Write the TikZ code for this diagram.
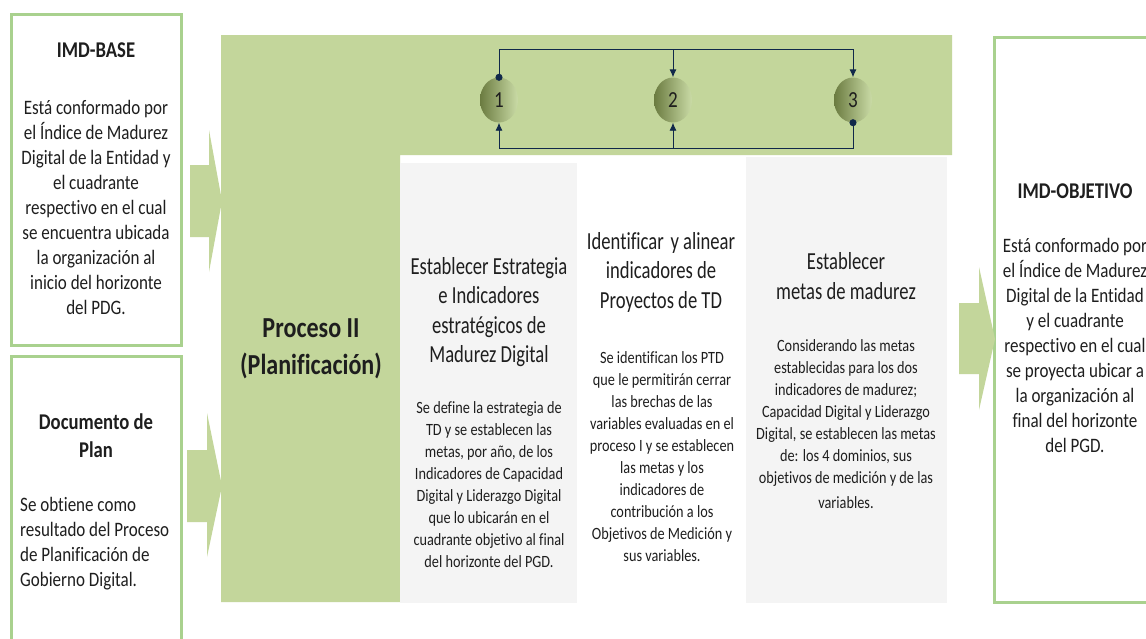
\documentclass[tikz,border=0pt]{standalone}
\usepackage{fontspec}
\setmainfont{Carlito}[FakeStretch=0.83, Ligatures=NoCommon]
\newfontfamily\coltitlefont{Carlito}[FakeStretch=0.76, Ligatures=NoCommon]
\usetikzlibrary{arrows.meta,shapes.geometric}
\definecolor{pgreen}{HTML}{C3D69B}
\definecolor{bgreen}{HTML}{A9D18E}
\definecolor{pgray}{HTML}{F4F4F4}
\definecolor{ink}{HTML}{1E1E1E}
\definecolor{navy}{HTML}{10284A}
\definecolor{olived}{HTML}{6B7B40}
\definecolor{olivel}{HTML}{CADBA6}
\tikzset{dotend/.tip={Circle[length=7pt]}, tipend/.tip={Latex[length=8pt,width=7pt]}}
\begin{document}
\begin{tikzpicture}[x=1pt,y=-1pt,
  txt/.style={inner sep=0pt, align=center, text=ink},
  boxtitle/.style={txt, font=\fontsize{22.5}{28}\selectfont\bfseries},
  boxbody/.style={txt, font=\fontsize{20.5}{25}\selectfont},
  bigtitle/.style={txt, font=\fontsize{29}{37}\selectfont\bfseries},
  coltitle/.style={txt, font=\coltitlefont\fontsize{24.5}{29.5}\selectfont},
  colbody/.style={txt, font=\fontsize{17.2}{22}\selectfont},
  frame/.style={draw=bgreen, line width=3pt},
  circ/.style={ellipse, minimum width=38pt, minimum height=45pt, inner sep=0pt,
    left color=olived, right color=olivel, text=ink, font=\fontsize{23}{23}\selectfont},
  conn/.style={draw=navy, line width=0.9pt},
  chev/.style={fill=pgreen}]
\useasboundingbox[fill=white] (0,0) rectangle (1146,638);
\begin{scope}
\clip (0,0) rectangle (1146,638);
% main green area
\fill[pgreen] (221,35) -- (952,35) -- (952,155) -- (400,155) -- (400,602) -- (221,602) -- cycle;
% column panels
\fill[pgray] (400,163) rectangle (577,603);
\fill[pgray] (746,157) rectangle (947,603);
% side frames
\draw[frame] (11.5,14.5) rectangle (181.5,345.5);
\draw[frame] (11.5,356.5) rectangle (181.5,700);
\draw[frame] (994.5,37.5) rectangle (1200,602.5);
% chevrons
\fill[chev] (190,165) -- (209,165) -- (209,130) -- (222,201) -- (209,272) -- (209,237) -- (190,237) -- cycle;
\fill[chev] (187,450) -- (207,450) -- (207,413) -- (222,486) -- (207,557) -- (207,522) -- (187,522) -- cycle;
\fill[chev] (959,303) -- (979,303) -- (979,267) -- (995,339) -- (979,410) -- (979,374) -- (959,374) -- cycle;
\end{scope}
% circles
\node[circ] (c1) at (499,100) {1};
\node[circ] (c2) at (673,100) {2};
\node[circ] (c3) at (853,100) {3};
\coordinate (t1) at (499,49);
\coordinate (t2) at (673,49);
\coordinate (t3) at (853,49);
\coordinate (b1) at (499,148);
\coordinate (b2) at (673,148);
\coordinate (b3) at (853,148);
\draw[conn, {dotend}-{tipend}] ([yshift=-3.5pt]c1.north) -- (t1) -- (t3) -- (c3.north);
\draw[conn, -{tipend}] (t2) -- (c2.north);
\draw[conn, {dotend}-{tipend}] ([yshift=3.5pt]c3.south) -- (b3) -- (b1) -- (c1.south);
\draw[conn, -{tipend}] (b2) -- (c2.south);
% left boxes text
\node[boxtitle] (basetitle) at (96,50) {IMD-BASE};
\node[boxbody] (basetext) at (96,207) {Está conformado por\\el Índice de Madurez\\Digital de la Entidad y\\el cuadrante\\respectivo en el cual\\se encuentra ubicada\\la organización al\\inicio del horizonte\\del PDG.};
\node[boxtitle] (plantitle) at (96,436) {Documento de\\Plan};
\node[boxbody, align=left, anchor=west] (plantext) at (20,544) {Se obtiene como\\resultado del Proceso\\de Planificación de\\Gobierno Digital.};
% process title
\node[bigtitle] (proc) at (311,349) {Proceso II\\(Planificación)};
% columns
\node[coltitle] (t1title) at (489,312) {Establecer Estrategia\\e Indicadores\\estratégicos de\\Madurez Digital};
\node[colbody] (t1body) at (489,485) {Se define la estrategia de\\TD y se establecen las\\metas, por año, de los\\Indicadores de Capacidad\\Digital y Liderazgo Digital\\que lo ubicarán en el\\cuadrante objetivo al final\\del horizonte del PGD.};
\node[coltitle] (t2title) at (661,272) {Identificar\hspace{0.1em} y alinear\\indicadores de\\Proyectos de TD};
\node[colbody] (t2body) at (662,457) {Se identifican los PTD\\que le permitirán cerrar\\las brechas de las\\variables evaluadas en el\\proceso I y se establecen\\las metas y los\\indicadores de\\contribución a los\\Objetivos de Medición y\\sus variables.};
\node[coltitle] (t3title) at (846,276) {Establecer\\metas de madurez};
\node[colbody] (t3body) at (846,424) {Considerando las metas\\establecidas para los dos\\indicadores de madurez;\\Capacidad Digital y Liderazgo\\Digital, se establecen las metas\\de: los 4 dominios, sus\\objetivos de medición y de las\\[3pt]variables.};
% right box text
\node[boxtitle] (objtitle) at (1075,191) {IMD-OBJETIVO};
\node[boxbody] (objtext) at (1075,345) {Está conformado por\\el Índice de Madurez\\Digital de la Entidad\\y el cuadrante\\respectivo en el cual\\se proyecta ubicar a\\la organización al\\final del horizonte\\del PGD.};
\end{tikzpicture}
\end{document}
